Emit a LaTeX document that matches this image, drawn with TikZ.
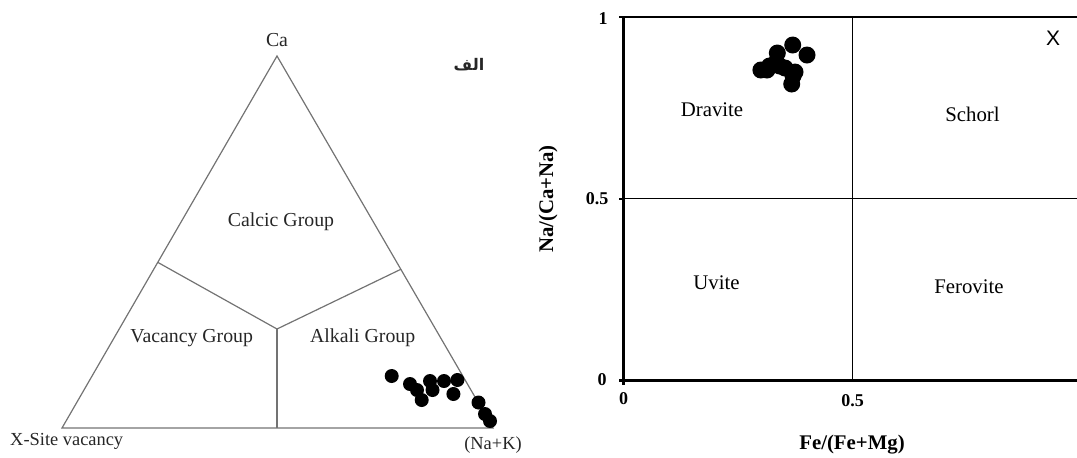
\documentclass[tikz,border=0pt]{standalone}
\usepackage{fontspec}
\setmainfont{Liberation Serif}
\newfontfamily\arabicfont[Script=Arabic]{DejaVu Sans}
\newfontfamily\chartsans{Liberation Sans}
\TeXXeTstate=1
\usetikzlibrary{positioning,calc}

\begin{document}
\begin{tikzpicture}[x=0.5pt, y=-0.5pt]
    % Define styles
    \tikzstyle{ternline} = [draw=black!55, line width=0.6pt]
    \tikzstyle{ternlabel} = [text=black!85, inner sep=0pt, font=\fontsize{9.9}{11}\selectfont]
    \tikzstyle{fieldlabel} = [inner sep=0pt, font=\fontsize{10.4}{12}\selectfont]
    \tikzstyle{ticklabel} = [inner sep=0pt, font=\fontsize{9}{10}\selectfont\bfseries]
    \tikzstyle{axislabel} = [inner sep=0pt, font=\fontsize{10.4}{12}\selectfont\bfseries]
    \tikzstyle{axis} = [draw=black, line width=1.5pt]
    \tikzstyle{grid} = [draw=black, line width=0.5pt]

    \useasboundingbox (0,0) rectangle (1077,457);

    % Ternary diagram
    \coordinate (vac) at (62,428);
    \coordinate (alk) at (493,428);
    \coordinate (ca) at (277,56);
    \coordinate (jleft) at (157.7,262.3);
    \coordinate (jright) at (400.8,269.3);
    \coordinate (mid) at (277,329);
    \coordinate (base) at (277,428);

    \draw [ternline] (vac) -- (alk) -- (ca) -- cycle;
    \draw [ternline] (jleft) -- (mid) -- (jright);
    \draw [ternline] (mid) -- (base);

    \node [ternlabel] (calabel) at (277,40) {Ca};
    \node [ternlabel] (calcic) at (281,222) {Calcic Group};
    \node [ternlabel] (vacancy) at (191.7,338) {Vacancy Group};
    \node [ternlabel] (alkali) at (362.7,338) {Alkali Group};
    \node [ternlabel, font=\fontsize{9.2}{10}\selectfont] (vaclabel) at (66.7,441.5) {X-Site vacancy};
    \node [ternlabel, font=\fontsize{9.2}{10}\selectfont] (alklabel) at (493,445) {(Na+K)};
    \node [inner sep=0pt, font=\arabicfont\bfseries\fontsize{8}{10}\selectfont, text=black!85] (alef) at (469,65) {\beginR الف\endR};

    \foreach \px/\py in {391.7/376, 410/384, 417/390, 421.7/400, 430/381, 432.5/390,
                         444/381, 453.4/394, 457.4/380, 478.5/402.5, 485/414, 490/421}
        \fill (\px,\py) circle (7);

    % Classification plot
    \coordinate (origin) at (623.5,380);
    \coordinate (ytop) at (623.5,17.3);
    \coordinate (xend) at (1077,380);
    \coordinate (topend) at (1077,17.3);

    \draw [grid] (852.3,16) -- (852.3,380);
    \draw [grid] (623.5,198.5) -- (1077,198.5);
    \draw [draw=black, line width=1pt] (ytop) -- (topend);
    \draw [axis] (ytop) -- (623.5,385);
    \draw [axis] (619,380) -- (xend);
    \draw [axis, line width=1pt] (619,17.3) -- (ytop);
    \draw [axis, line width=1pt] (619,198.5) -- (623.5,198.5);

    \node [ticklabel] (yone) at (603,19) {1};
    \node [ticklabel] (yhalf) at (597,198.5) {0.5};
    \node [ticklabel] (yzero) at (602,379.5) {0};
    \node [ticklabel] (xzero) at (623.5,399) {0};
    \node [ticklabel] (xhalf) at (852.5,401) {0.5};
    \node [axislabel] (xlabel) at (852,445) {Fe/(Fe+Mg)};
    \node [axislabel, rotate=90] (ylabel) at (548,199) {Na/(Ca+Na)};

    \node [fieldlabel] (dravite) at (712,110) {Dravite};
    \node [fieldlabel] (schorl) at (972.5,114) {Schorl};
    \node [fieldlabel] (uvite) at (716.5,283) {Uvite};
    \node [fieldlabel] (ferovite) at (969,287) {Ferovite};
    \node [inner sep=0pt, font=\chartsans\fontsize{10.5}{12}\selectfont] (xsite) at (1053,38) {X};

    \foreach \px/\py in {792.7/45, 807/55, 777.3/53, 769.5/66, 760.9/70, 767/70,
                         776.3/62, 779.7/66, 785/68, 795/72, 791.7/84, 793/76}
        \fill (\px,\py) circle (8.5);
\end{tikzpicture}
\end{document}
